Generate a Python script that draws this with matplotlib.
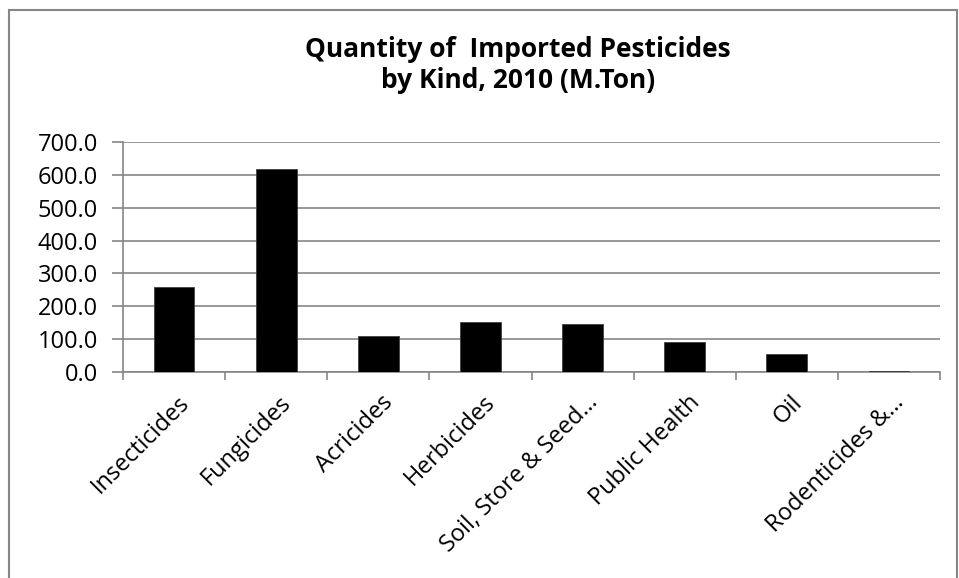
import matplotlib
matplotlib.use("Agg")
import matplotlib.pyplot as plt
from matplotlib.patches import Rectangle

categories = ["Insecticides", "Fungicides", "Acricides", "Herbicides",
              "Soil, Store & Seed…", "Public Health", "Oil", "Rodenticides &…"]
values = [259.0, 619.0, 110.0, 151.0, 147.0, 92.0, 56.0, 2.5]
yticks = [0, 100, 200, 300, 400, 500, 600, 700]
title = "Quantity of  Imported Pesticides\nby Kind, 2010 (M.Ton)"

plt.rcParams['font.family'] = ['Open Sans', 'DejaVu Sans']
grey = "#868686"

fig = plt.figure(figsize=(9.59, 5.78), dpi=100)
fig.patches.append(Rectangle((8.5/959, -0.01), (957-8.5)/959, 1 - 9.5/578 + 0.01,
                             transform=fig.transFigure, fill=False,
                             edgecolor=grey, linewidth=1.5))
ax = fig.add_axes([123/959, (578-372)/578, (940-123)/959, (372-142)/578])

x = list(range(len(categories)))
ax.bar(x, values, width=0.4, color="black", edgecolor="#404040", linewidth=0.6, zorder=3)
ax.set_xlim(-0.5, len(categories) - 0.5)
ax.set_ylim(0, 700)
ax.set_yticks(yticks)
ax.set_yticklabels([f"{v:.1f}" for v in yticks], fontsize=17, color="black")
ax.yaxis.grid(True, color=grey, linewidth=1.2, zorder=0)
ax.set_axisbelow(True)

ax.set_xticks([i + 0.5 for i in range(-1, len(categories))], minor=False)
ax.set_xticklabels([])
ax.tick_params(axis='x', length=6, color=grey, width=1.2, direction='out')
ax.tick_params(axis='y', length=8, color=grey, width=1.2, direction='out', pad=10)
xt = ax.get_xaxis_transform()
for i, c in enumerate(categories):
    ax.text(i + 0.03, -0.08, c, rotation=45, ha='right', va='top',
            rotation_mode='anchor', fontsize=17, transform=xt,
            clip_on=False)

for s in ["top", "right"]:
    ax.spines[s].set_visible(False)
for s in ["left", "bottom"]:
    ax.spines[s].set_color(grey)
    ax.spines[s].set_linewidth(1.2)

fig.text(518/959, 1 - 65/578, title, ha='center', va='center',
         fontsize=19, fontweight='bold', linespacing=1.15)

fig.savefig("out.png", dpi=100)
